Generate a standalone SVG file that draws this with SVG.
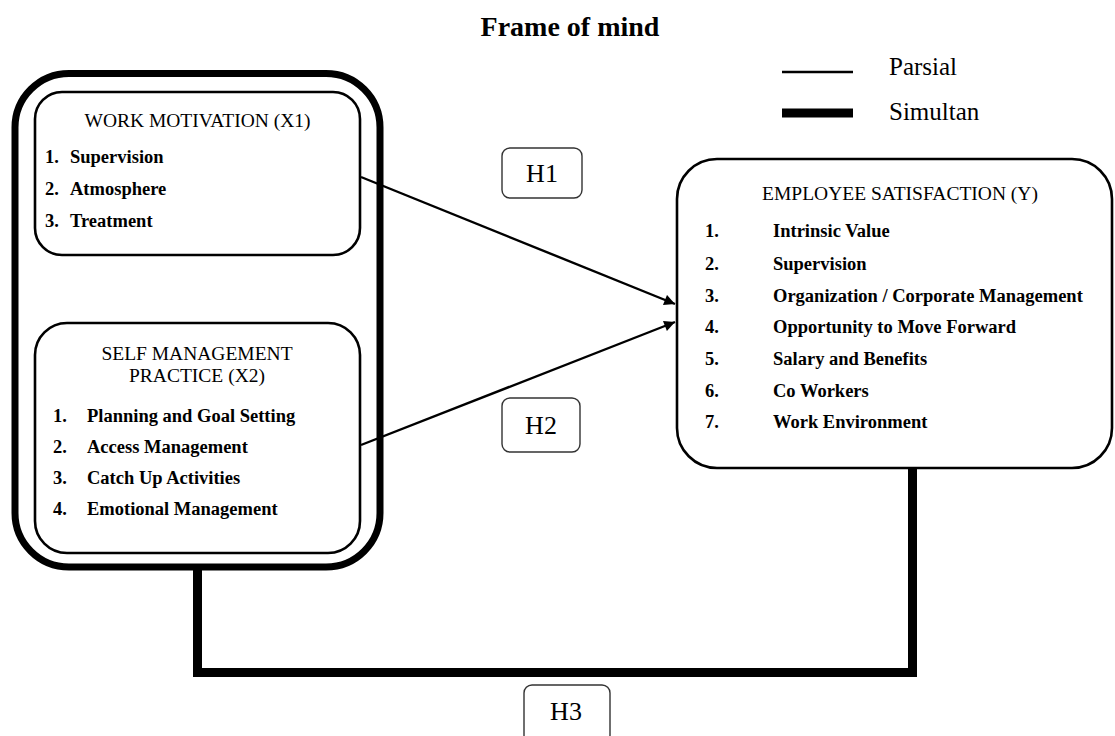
<svg xmlns="http://www.w3.org/2000/svg" width="1115" height="736" viewBox="0 0 1115 736">
<defs>
<style>
.t{font-family:"Liberation Serif","Times New Roman",serif;fill:#000}
.hd{font-size:19.5px}
.it{font-size:18.5px;font-weight:bold}
.lbl{font-size:26px}
.box{fill:#fff;stroke:#000;stroke-width:2.6}
.hbox{fill:#fff;stroke:#333;stroke-width:1.4}
.thin{fill:none;stroke:#000;stroke-width:2.4}
.thick{fill:none;stroke:#000;stroke-width:9}
</style>
<marker id="arr" viewBox="0 0 10 10" refX="10" refY="5" markerWidth="5" markerHeight="4.5" markerUnits="strokeWidth" orient="auto">
<path d="M0,0 L10,5 L0,10 z" fill="#000"/>
</marker>
</defs>
<rect width="1115" height="736" fill="#fff"/>
<text class="t" x="570" y="36" font-size="28" font-weight="bold" text-anchor="middle">Frame of mind</text>
<g id="legend">
<line x1="782" y1="72" x2="853" y2="72" stroke="#000" stroke-width="2.6"/>
<line x1="782" y1="113" x2="853" y2="113" stroke="#000" stroke-width="9"/>
<text class="t" x="889" y="75" font-size="25">Parsial</text>
<text class="t" x="889" y="120" font-size="25">Simultan</text>
</g>
<g id="connectors">
<path class="thick" d="M197.5,567 V672.5 H912.5 V468"/>
<line class="thin" x1="361" y1="177" x2="675" y2="304" marker-end="url(#arr)"/>
<line class="thin" x1="361" y1="445" x2="675" y2="322" marker-end="url(#arr)"/>
</g>
<g id="simultan-frame">
<rect x="15" y="73.5" width="365" height="493.5" rx="54" fill="none" stroke="#000" stroke-width="7"/>
</g>
<g id="x1">
<rect class="box" x="35" y="92" width="325" height="163" rx="27"/>
<text class="t hd" x="197.5" y="127" text-anchor="middle">WORK MOTIVATION (X1)</text>
<text class="t it" x="45" y="163">1.</text><text class="t it" x="70" y="163">Supervision</text>
<text class="t it" x="45" y="195">2.</text><text class="t it" x="70" y="195">Atmosphere</text>
<text class="t it" x="45" y="227">3.</text><text class="t it" x="70" y="227">Treatment</text>
</g>
<g id="x2">
<rect class="box" x="35" y="323" width="325" height="230" rx="32"/>
<text class="t hd" x="197" y="360" text-anchor="middle">SELF MANAGEMENT</text>
<text class="t hd" x="197" y="382" text-anchor="middle">PRACTICE (X2)</text>
<text class="t it" x="53" y="422">1.</text><text class="t it" x="87" y="422">Planning and Goal Setting</text>
<text class="t it" x="53" y="453">2.</text><text class="t it" x="87" y="453">Access Management</text>
<text class="t it" x="53" y="484">3.</text><text class="t it" x="87" y="484">Catch Up Activities</text>
<text class="t it" x="53" y="515">4.</text><text class="t it" x="87" y="515">Emotional Management</text>
</g>
<g id="y">
<rect class="box" x="677" y="159" width="435" height="309" rx="40"/>
<text class="t hd" x="900" y="200" text-anchor="middle">EMPLOYEE SATISFACTION (Y)</text>
<text class="t it" x="705" y="237">1.</text><text class="t it" x="773" y="237">Intrinsic Value</text>
<text class="t it" x="705" y="270">2.</text><text class="t it" x="773" y="270">Supervision</text>
<text class="t it" x="705" y="302">3.</text><text class="t it" x="773" y="302">Organization / Corporate Management</text>
<text class="t it" x="705" y="333">4.</text><text class="t it" x="773" y="333">Opportunity to Move Forward</text>
<text class="t it" x="705" y="365">5.</text><text class="t it" x="773" y="365">Salary and Benefits</text>
<text class="t it" x="705" y="397">6.</text><text class="t it" x="773" y="397">Co Workers</text>
<text class="t it" x="705" y="428">7.</text><text class="t it" x="773" y="428">Work Environment</text>
</g>
<g id="h1">
<rect class="hbox" x="502" y="148" width="80" height="50" rx="8"/>
<text class="t lbl" x="542" y="182" text-anchor="middle">H1</text>
</g>
<g id="h2">
<rect class="hbox" x="502" y="398" width="78" height="54" rx="8"/>
<text class="t lbl" x="541" y="434" text-anchor="middle">H2</text>
</g>
<g id="h3">
<rect class="hbox" x="524" y="685" width="86" height="58" rx="8"/>
<text class="t lbl" x="566" y="720" text-anchor="middle">H3</text>
</g>
</svg>
